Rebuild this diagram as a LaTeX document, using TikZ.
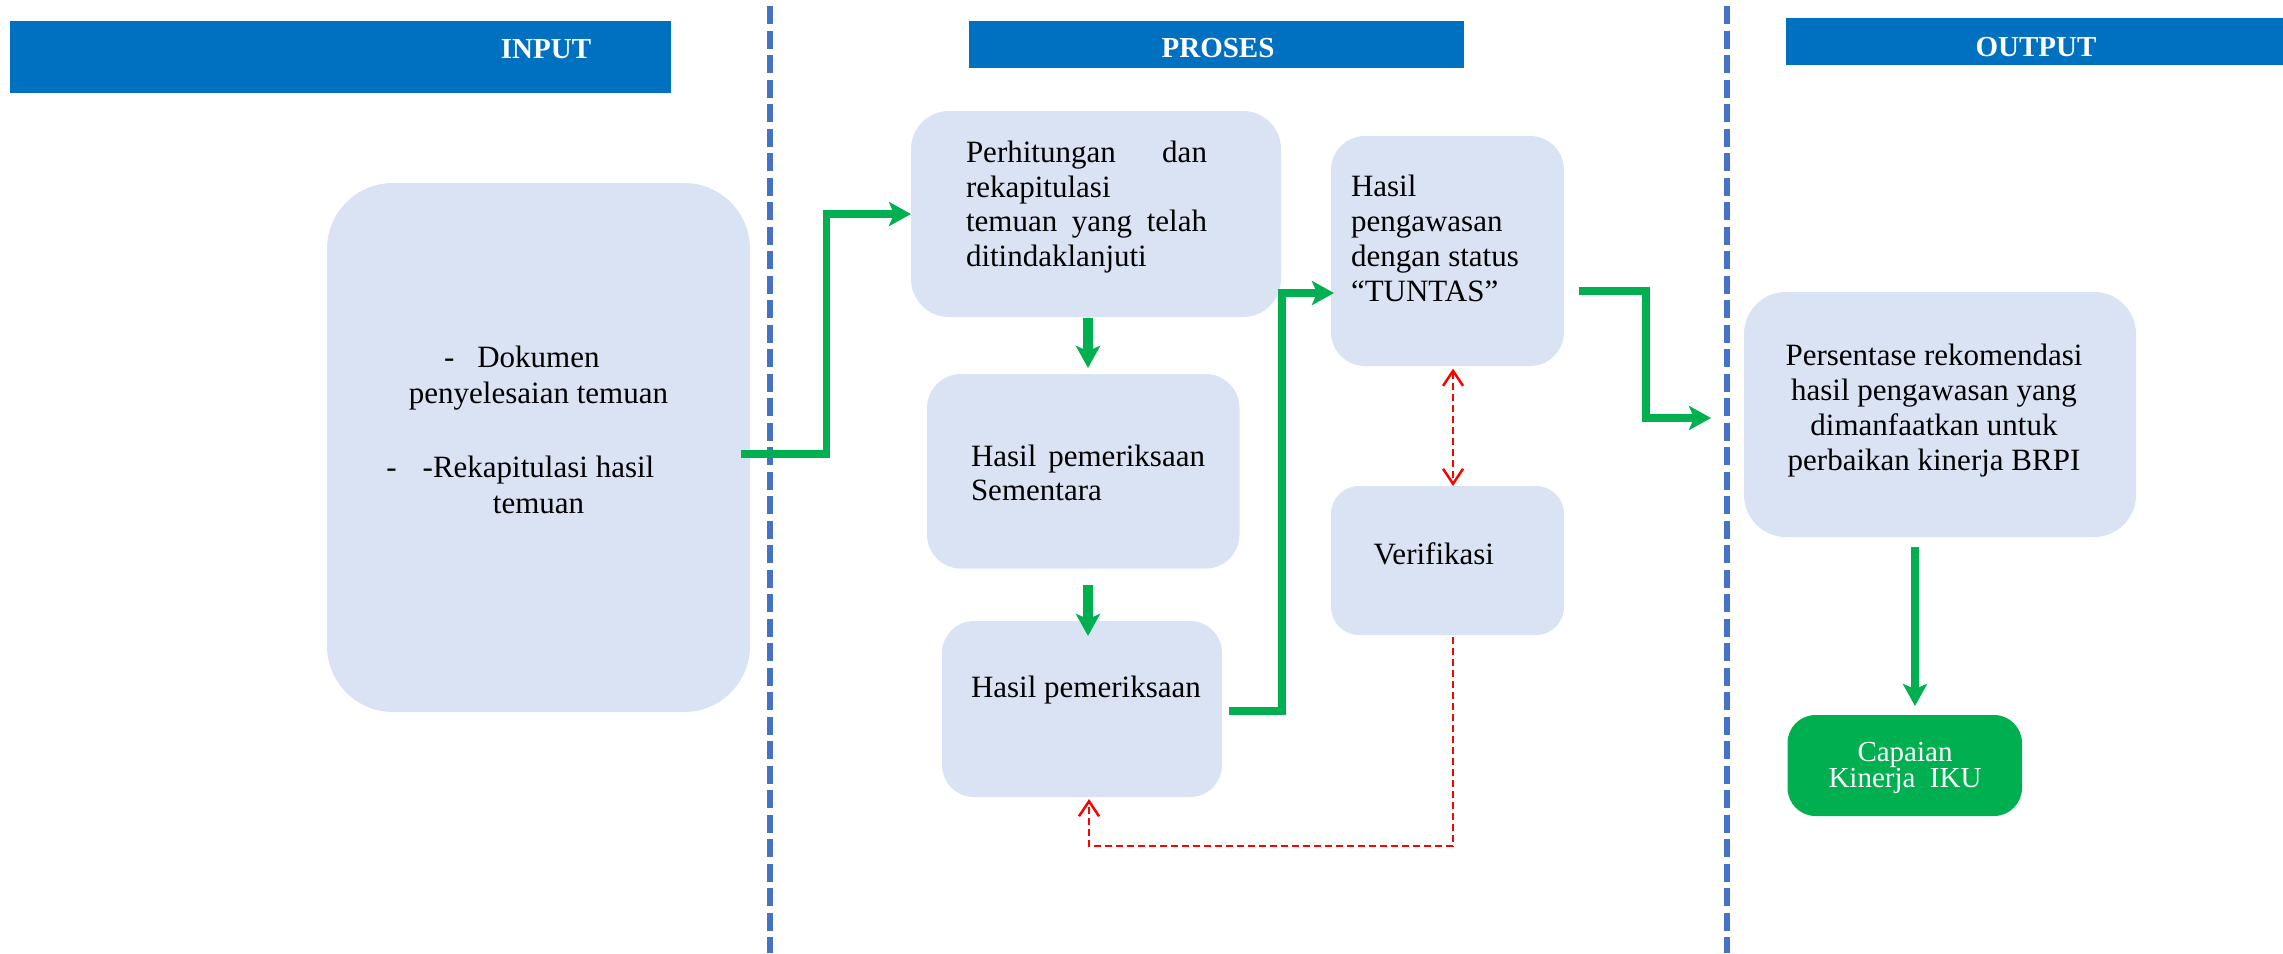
\documentclass[tikz,border=0pt]{standalone}
\usepackage{fontspec}
\setmainfont{Liberation Serif}
\usetikzlibrary{arrows.meta,calc}
\definecolor{hdr}{HTML}{0070C0}
\definecolor{boxc}{HTML}{DAE3F3}
\definecolor{grn}{HTML}{00B050}
\definecolor{sepblue}{HTML}{4472C4}
\definecolor{redc}{HTML}{FF0000}
\newcommand{\mylines}[2]{\begin{tabular}[t]{@{}#1@{}}#2\end{tabular}}
\tikzset{
  gst/.tip={Stealth[length=22pt,width=24pt,inset=5pt]},
  rbb/.tip={Straight Barb[length=15pt,width=20pt]}
}
\begin{document}
\begin{tikzpicture}[x=1pt,y=-1pt,
  pbox/.style={fill=boxc, draw=none, rounded corners=#1, inner sep=0pt, outer sep=0pt},
  hdrbox/.style={fill=hdr, draw=none, inner sep=0pt, outer sep=0pt},
  hdrtxt/.style={text=white, font=\fontsize{29}{33}\selectfont\bfseries, inner sep=0pt},
  txt/.style={inner sep=0pt, outer sep=0pt, font=\fontsize{31}{#1}\selectfont},
  sepline/.style={draw=sepblue, line width=5.5pt, dash pattern=on 18pt off 6.5pt},
  gline/.style={draw=grn, line width=7.5pt, -gst},
  rline/.style={draw=redc, line width=2.5pt, dash pattern=on 7pt off 4pt}
]
\useasboundingbox (0,0) rectangle (2283,953);

% header bars
\node[hdrbox, minimum width=661pt, minimum height=72pt] (hin) at (340.5,57) {};
\node[hdrbox, minimum width=495pt, minimum height=47pt] (hpr) at (1216.5,44.5) {};
\node[hdrbox, minimum width=497pt, minimum height=47pt] (hout) at (2034.5,41.5) {};
\node[hdrtxt] (tin) at (546,49) {INPUT};
\node[hdrtxt] (tpr) at (1218,48) {PROSES};
\node[hdrtxt] (tout) at (2036,47) {OUTPUT};

% separators
\draw[sepline] (770,6) -- (770,953);
\draw[sepline] (1727,6) -- (1727,953);

% boxes
\node[pbox=66pt, minimum width=423pt, minimum height=529pt] (inp) at (538.5,447.5) {};
\node[pbox=38pt, minimum width=370pt, minimum height=206pt] (perh) at (1096,214) {};
\node[pbox=34pt, minimum width=233pt, minimum height=230pt] (peng) at (1447.5,251) {};
\node[pbox=34pt, minimum width=312.5pt, minimum height=194.6pt] (sem) at (1083.25,471.3) {};
\node[pbox=28pt, minimum width=233pt, minimum height=149pt] (ver) at (1447.5,560.5) {};
\node[pbox=32pt, minimum width=280pt, minimum height=176pt] (pem) at (1082,709) {};
\node[pbox=42pt, minimum width=392pt, minimum height=245pt] (pers) at (1940,414.5) {};
\node[fill=grn, draw=none, rounded corners=28pt, inner sep=0pt, outer sep=0pt, minimum width=234.5pt, minimum height=101pt] (cap) at (1904.75,765.5) {};

% texts
\node[txt=36.7, anchor=base] (inptxt) at (538.5,367) {\mylines{c}{\llap{-\hspace{23pt}}Dokumen\\ penyelesaian temuan\\ \\ \llap{-\hspace{26pt}}-Rekapitulasi hasil\\ temuan}};
\node[txt=34.5, anchor=base west] (perhtxt) at (966,162.5) {\mylines{l}{\makebox[241pt][s]{Perhitungan dan}\\ rekapitulasi\\ \makebox[241pt][s]{temuan yang telah}\\ ditindaklanjuti}};
\node[txt=35.3, anchor=base west] (pengtxt) at (1351,196) {\mylines{l}{Hasil\\ pengawasan\\ dengan status\\ “TUNTAS”}};
\node[txt=34, anchor=base west] (semtxt) at (971,466) {\mylines{l}{\makebox[234pt][s]{Hasil pemeriksaan}\\ Sementara}};
\node[txt=35, anchor=base west] (vertxt) at (1373.5,564) {Verifikasi};
\node[txt=35, anchor=base west] (pemtxt) at (971,697) {Hasil pemeriksaan};
\node[txt=35.3, anchor=base] (perstxt) at (1934,365) {\mylines{c}{Persentase rekomendasi\\ hasil pengawasan yang\\ dimanfaatkan untuk\\ perbaikan kinerja BRPI}};
\node[inner sep=0pt, text=white, font=\fontsize{29}{24}\selectfont, anchor=base] (captxt) at (1905,761) {\mylines{c}{Capaian\\ Kinerja~~IKU}};

% green connectors
\draw[gline] ($(inp.east)+(-9,6.5)$) -- ++(85.5,0) |- (perh.west);
\draw[gline, line width=10pt] ($(perh.south)+(-8,1)$) -- ($(perh.south |- sem.north)+(-8,-6)$);
\draw[gline, line width=10pt] ($(sem.south)+(4.75,16.4)$) -- ($(pem.north)+(6,15)$);
\draw[gline] ($(pem.east)+(7,2)$) -- ++(53,0) |- ($(peng.west)+(3,42)$);
\draw[gline] ($(peng.east)+(15,40)$) -- ++(67,0) |- ($(pers.west)+(-33,3.5)$);
\draw[gline, line width=8pt] ($(pers.south)+(-25,10)$) -- ($(cap.north)+(10.25,-9)$);

% red dashed connectors
\draw[rline, rbb-rbb] ($(peng.south)+(5.5,2.6)$) -- ($(peng.south |- ver.north)+(5.5,0)$);
\draw[rline, -rbb] ($(ver.south)+(5.5,2)$) -- ++(0,209) -| ($(pem.south)+(7,2)$);
\end{tikzpicture}
\end{document}
